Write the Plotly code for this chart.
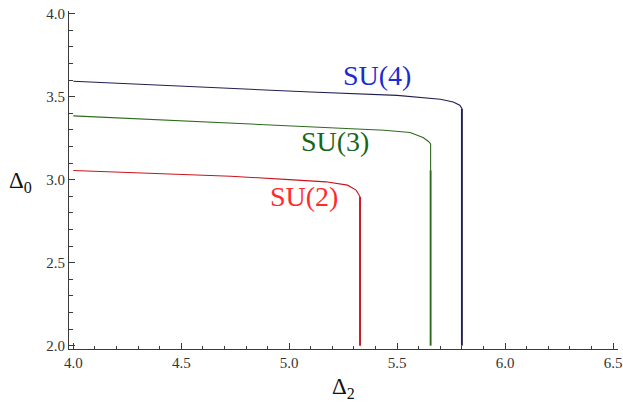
import plotly.graph_objects as go

# ---- data ----
su4_top_x = [4.0, 4.4, 4.8, 5.1, 5.5, 5.70, 5.76, 5.79, 5.80]
su4_top_y = [3.593, 3.569, 3.546, 3.528, 3.508, 3.484, 3.468, 3.448, 3.428]
su4_vert_x = [5.80, 5.80]
su4_vert_y = [3.428, 2.0]

su3_top_x = [4.0, 4.4, 4.8, 5.2, 5.44, 5.56, 5.62, 5.645, 5.655, 5.655]
su3_top_y = [3.384, 3.360, 3.335, 3.312, 3.298, 3.284, 3.254, 3.230, 3.215, 3.057]
su3_vert_x = [5.655, 5.655]
su3_vert_y = [3.057, 2.0]

su2_top_x = [4.0, 4.4, 4.73, 5.0, 5.17, 5.27, 5.31, 5.32, 5.328]
su2_top_y = [3.055, 3.038, 3.021, 3.000, 2.987, 2.967, 2.937, 2.915, 2.897]
su2_vert_x = [5.328, 5.328]
su2_vert_y = [2.897, 2.0]

labels = ["SU(4)", "SU(3)", "SU(2)"]
label_x = [5.405, 5.212, 5.069]
label_y = [3.629, 3.227, 2.897]

x_ticks = [4.0, 4.5, 5.0, 5.5, 6.0, 6.5]
y_ticks = [2.0, 2.5, 3.0, 3.5, 4.0]

line_colors = ["#20204f", "#2d6a1c", "#c8141e"]
label_colors = ["#1a2bd0", "#17661a", "#ff2a2a"]

SERIF = "Liberation Serif, Times New Roman, Times, serif"

# plot area at window pixels x 69..618, y 11..349
W, H = 623, 406
L, T = 69, 11
pw, ph = 549, 338
R = W - L - pw
B = H - T - ph

fig = go.Figure()
series = [
    (su4_top_x, su4_top_y, su4_vert_x, su4_vert_y),
    (su3_top_x, su3_top_y, su3_vert_x, su3_vert_y),
    (su2_top_x, su2_top_y, su2_vert_x, su2_vert_y),
]
for (tx, ty, vx, vy), c in zip(series, line_colors):
    fig.add_trace(go.Scatter(x=tx, y=ty, mode="lines",
                             line=dict(color=c, width=1.1), showlegend=False,
                             hoverinfo="skip"))
    fig.add_trace(go.Scatter(x=vx, y=vy, mode="lines",
                             line=dict(color=c, width=1.9), showlegend=False,
                             hoverinfo="skip"))

for t, lx, ly, lc in zip(labels, label_x, label_y, label_colors):
    fig.add_annotation(x=lx, y=ly, xref="x", yref="y", text=t, showarrow=False,
                       font=dict(family=SERIF, size=28, color=lc),
                       xanchor="center", yanchor="middle")

# axis titles, positioned by window pixel centres
def paper_xy(px, py):
    return (px - L) / pw, (H - B - py) / ph

ax0, ay0 = paper_xy(20, 182)
ax2, ay2 = paper_xy(343, 388)
fig.add_annotation(x=ax0, y=ay0, xref="paper", yref="paper", text="Δ<sub>0</sub>",
                   showarrow=False, font=dict(family=SERIF, size=23, color="#111"),
                   xanchor="center", yanchor="middle")
fig.add_annotation(x=ax2, y=ay2, xref="paper", yref="paper", text="Δ<sub>2</sub>",
                   showarrow=False, font=dict(family=SERIF, size=23, color="#111"),
                   xanchor="center", yanchor="middle")

axis_common = dict(
    showline=True, linecolor="#3a3a3a", linewidth=1, mirror=False,
    showgrid=False, zeroline=False, automargin=False,
    ticklabeloverflow="allow",
    ticks="inside", ticklen=6, tickcolor="#3a3a3a", tickwidth=1,
    tickformat=".1f",
    tickfont=dict(family=SERIF, size=15, color="#333"),
    minor=dict(ticks="inside", ticklen=3.5, tickcolor="#3a3a3a", dtick=0.1, showgrid=False),
)

fig.update_layout(
    width=W, height=H,
    margin=dict(l=L, r=R, t=T, b=B),
    paper_bgcolor="white", plot_bgcolor="white",
    xaxis=dict(range=[3.980, 6.523], tickvals=x_ticks, **axis_common),
    yaxis=dict(range=[1.980, 4.016], tickvals=y_ticks, **axis_common),
)

fig.write_html(
    "out.html",
    config={"responsive": False, "displayModeBar": False},
    post_script="document.body.style.margin='0';document.body.style.overflow='hidden';",
)
